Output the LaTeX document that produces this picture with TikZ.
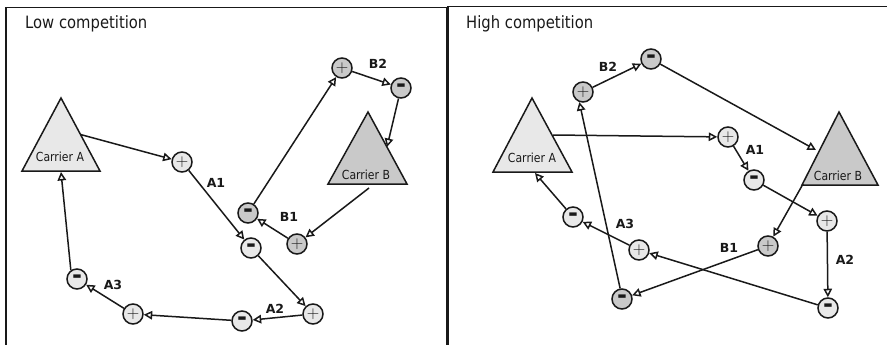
\documentclass[tikz,border=0pt]{standalone}
\usepackage[no-math]{fontspec}
\setmainfont{DejaVu Sans}
\newfontfamily\tahoma{DejaVu Sans}[FakeStretch=0.87]
\usetikzlibrary{arrows.meta,calc}

\definecolor{lightfill}{gray}{0.91}
\definecolor{darkfill}{gray}{0.79}
\definecolor{ink}{gray}{0.1}

\tikzset{
 sign/.style={circle, draw=ink, line width=1.5pt, minimum size=20pt, inner sep=0pt, text=ink},
 lt/.style={sign, fill=lightfill},
 dk/.style={sign, fill=darkfill},
 conn/.style={draw=ink, line width=1.5pt, -{Triangle[open,length=8.5pt,width=8.5pt]}},
 tri/.style={draw=ink, line width=1.5pt, line join=miter},
 lbl/.style={font=\fontsize{12.5}{13}\selectfont\bfseries, text=ink, inner sep=0pt},
 carrier/.style={font=\tahoma\fontsize{12.5}{14}\selectfont, text=ink, inner sep=0pt},
 title/.style={font=\tahoma\fontsize{17}{20}\selectfont, text=ink, inner sep=0pt, anchor=base west},
 frame/.style={draw=ink, line width=1.4pt},
}
\newcommand\plussign{\fontsize{19}{19}\selectfont$+$}
\newcommand\minussign{\fontsize{24}{24}\selectfont\bfseries\raisebox{-0.2em}{-}}

\begin{document}
\begin{tikzpicture}[x=1pt,y=-1pt]
\useasboundingbox (0,0) rectangle (887,345);

% frames
\draw[frame] (6,348) -- (6,7.5) -- (447,7.5) -- (447,348);
\draw[frame] (448,348) -- (448,6.5) -- (890,6.5);

\node[title] (ltitle) at (25,29) {Low competition};
\node[title] (rtitle) at (466,29) {High competition};

% ================= LEFT PANEL =================
\coordinate (l-caT) at (61,98);
\coordinate (l-caL) at (22,171);
\coordinate (l-caR) at (100,171);
\draw[tri, fill=lightfill] (l-caT) -- (l-caL) -- (l-caR) -- cycle;
\node[carrier] (l-ca) at (60,157) {Carrier A};

\coordinate (l-cbT) at (368,112);
\coordinate (l-cbL) at (328,184);
\coordinate (l-cbR) at (407,184);
\draw[tri, fill=darkfill] (l-cbT) -- (l-cbL) -- (l-cbR) -- cycle;
\node[carrier] (l-cb) at (366,175) {Carrier B};

\node[lt] (l-a1p) at (182,162) {\plussign};
\node[lt] (l-a1m) at (251,248) {\minussign};
\node[lt] (l-a2p) at (313,314) {\plussign};
\node[lt] (l-a2m) at (242,321) {\minussign};
\node[lt] (l-a3p) at (133,314) {\plussign};
\node[lt] (l-a3m) at (77,279) {\minussign};
\node[dk] (l-b1p) at (297,244) {\plussign};
\node[dk] (l-b1m) at (248,213) {\minussign};
\node[dk] (l-b2p) at (342,68) {\plussign};
\node[dk] (l-b2m) at (401,88) {\minussign};

\coordinate (l-caout) at ($(l-caT)!0.5!(l-caR)$);
\coordinate (l-cain) at (61,172);
\coordinate (l-cbout) at (369,188);
\coordinate (l-cbin) at (387,147);

\draw[conn] (l-caout) -- (l-a1p);
\draw[conn] (l-a1p) -- (l-a1m);
\draw[conn] (l-a1m) -- (l-a2p);
\draw[conn] (l-a2p) -- (l-a2m);
\draw[conn] (l-a2m) -- (l-a3p);
\draw[conn] (l-a3p) -- (l-a3m);
\draw[conn] (l-a3m.125) -- (l-cain);
\draw[conn] (l-cbout) -- (l-b1p);
\draw[conn] (l-b1p) -- (l-b1m);
\draw[conn] (l-b1m) -- (l-b2p);
\draw[conn] (l-b2p) -- (l-b2m);
\draw[conn] (l-b2m) -- (l-cbin);

\node[lbl] (l-A1) at (216,183) {A1};
\node[lbl] (l-A2) at (275,309) {A2};
\node[lbl] (l-A3) at (113,285) {A3};
\node[lbl] (l-B1) at (289,217) {B1};
\node[lbl] (l-B2) at (378,64) {B2};

% ================= RIGHT PANEL =================
\coordinate (r-caT) at (532,98);
\coordinate (r-caL) at (493,172);
\coordinate (r-caR) at (572,172);
\draw[tri, fill=lightfill] (r-caT) -- (r-caL) -- (r-caR) -- cycle;
\node[carrier] (r-ca) at (532,158) {Carrier A};

\coordinate (r-cbT) at (839,112);
\coordinate (r-cbL) at (802,185);
\coordinate (r-cbR) at (878,185);
\draw[tri, fill=darkfill] (r-cbT) -- (r-cbL) -- (r-cbR) -- cycle;
\node[carrier] (r-cb) at (838,176) {Carrier B};

\node[lt] (r-a1p) at (728,137) {\plussign};
\node[lt] (r-a1m) at (754,180) {\minussign};
\node[lt] (r-a2p) at (827,221) {\plussign};
\node[lt] (r-a2m) at (828,308) {\minussign};
\node[lt] (r-a3p) at (639,250) {\plussign};
\node[lt] (r-a3m) at (573,217) {\minussign};
\node[dk] (r-b1p) at (768,246) {\plussign};
\node[dk] (r-b1m) at (622,299) {\minussign};
\node[dk] (r-b2p) at (583,92) {\plussign};
\node[dk] (r-b2m) at (651,59) {\minussign};

\coordinate (r-caout) at (553,135);
\coordinate (r-cain) at (535,173);
\coordinate (r-cbout) at (803,184);
\coordinate (r-cbin) at (816,150);

\draw[conn] (r-caout) -- (r-a1p);
\draw[conn] (r-a1p) -- (r-a1m);
\draw[conn] (r-a1m) -- (r-a2p);
\draw[conn] (r-a2p) -- (r-a2m);
\draw[conn] (r-a2m) -- (r-a3p);
\draw[conn] (r-a3p) -- (r-a3m);
\draw[conn] (r-a3m) -- (r-cain);
\draw[conn] (r-cbout) -- (r-b1p);
\draw[conn] (r-b1p) -- (r-b1m);
\draw[conn] (r-b1m.100) -- (r-b2p.250);
\draw[conn] (r-b2p) -- (r-b2m);
\draw[conn] (r-b2m) -- (r-cbin);

\node[lbl] (r-A1) at (755,150) {A1};
\node[lbl] (r-A2) at (845,260) {A2};
\node[lbl] (r-A3) at (625,224) {A3};
\node[lbl] (r-B1) at (729,248) {B1};
\node[lbl] (r-B2) at (608,67) {B2};
\end{tikzpicture}
\end{document}
